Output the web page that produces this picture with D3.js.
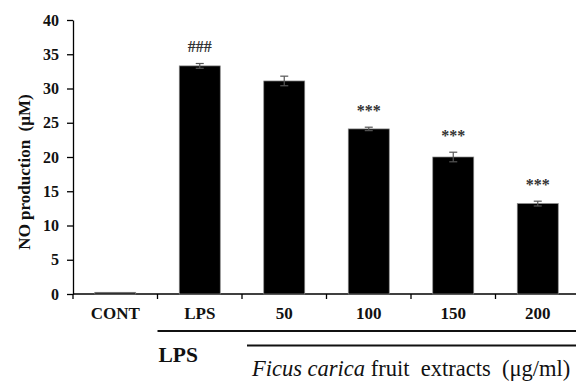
<!DOCTYPE html>
<html><head><meta charset="utf-8">
<script src="https://cdn.jsdelivr.net/npm/d3@7"></script>
<style>body{margin:0;background:#fff}svg{display:block}</style>
</head><body><svg id="c" width="576" height="383"></svg>
<script>
const categories = ["CONT", "LPS", "50", "100", "150", "200"];
const values = [0.25, 33.3, 31.1, 24.1, 20.0, 13.2];
const errors = [0.0, 0.35, 0.7, 0.25, 0.7, 0.35];
const marks = ["", "###", "", "***", "***", "***"];
const yTicks = [0, 5, 10, 15, 20, 25, 30, 35, 40];

const FONT = '"Liberation Serif", "Times New Roman", serif';
const svg = d3.select("#c");
const x0 = 73, x1 = 580, yTop = 20, yBot = 294;
const x = d3.scaleBand().domain(categories).range([x0, x1]).paddingInner(0.515).paddingOuter(0.2575);
const y = d3.scaleLinear().domain([0, 40]).range([yBot, yTop]);

// y axis
const ya = svg.append("g").attr("transform", `translate(${x0},0)`)
  .call(d3.axisLeft(y).tickValues(yTicks).tickSize(6).tickSizeOuter(0).tickPadding(8));
ya.select(".domain").attr("stroke", "#000").attr("stroke-width", 1.3);
ya.selectAll(".tick line").attr("stroke", "#000").attr("stroke-width", 1.3);
ya.selectAll(".tick text").style("font-family", FONT).style("font-weight", "bold").style("font-size", "16px").attr("fill", "#111");

// x axis (labels centered, ticks at boundaries)
const xa = svg.append("g").attr("transform", `translate(0,${yBot})`)
  .call(d3.axisBottom(x).tickSize(0).tickPadding(0));
xa.select(".domain").remove();
xa.selectAll(".tick text").attr("dy", 0).attr("y", 25)
  .style("font-family", FONT).style("font-weight", "bold").style("font-size", "17px").attr("fill", "#111");
svg.append("line").attr("x1", x0).attr("x2", 576).attr("y1", yBot).attr("y2", yBot).attr("stroke", "#000").attr("stroke-width", 1.3);
const bounds = categories.map(c => x(c) - x.step() * x.paddingInner() / 2);
svg.selectAll(".bt").data(bounds).join("line").attr("class", "bt")
  .attr("x1", d => d).attr("x2", d => d).attr("y1", yBot).attr("y2", yBot + 5).attr("stroke", "#000").attr("stroke-width", 1.3);

// bars
svg.selectAll(".bar").data(categories).join("rect").attr("class", "bar")
  .attr("x", d => x(d)).attr("width", x.bandwidth())
  .attr("y", (d, i) => y(values[i])).attr("height", (d, i) => Math.max(1.5, y(0) - y(values[i])))
  .attr("fill", "#000").attr("stroke", "#888").attr("stroke-width", 0.7);

// error bars
svg.selectAll(".eb").data(categories.filter((c, i) => errors[i] > 0)).join("g").attr("class", "eb")
  .each(function (c) {
    const i = categories.indexOf(c);
    const cx = x(c) + x.bandwidth() / 2;
    const g = d3.select(this);
    const t = y(values[i] + errors[i]), b = y(values[i] - errors[i]);
    g.append("line").attr("x1", cx).attr("x2", cx).attr("y1", t).attr("y2", b).attr("stroke", "#555").attr("stroke-width", 1.2);
    g.append("line").attr("x1", cx - 4).attr("x2", cx + 4).attr("y1", t).attr("y2", t).attr("stroke", "#555").attr("stroke-width", 1.2);
    g.append("line").attr("x1", cx - 4).attr("x2", cx + 4).attr("y1", b).attr("y2", b).attr("stroke", "#555").attr("stroke-width", 1.2);
  });

// significance marks
svg.selectAll(".mk").data(categories).join("text").attr("class", "mk")
  .attr("x", d => x(d) + x.bandwidth() / 2)
  .attr("y", (d, i) => y(values[i] + errors[i]) - 11)
  .attr("text-anchor", "middle")
  .style("font-family", FONT).style("font-weight", "bold").style("font-size", "16px").attr("fill", "#333")
  .text((d, i) => marks[i]);

// y label
svg.append("text").attr("transform", "translate(29.5,172) rotate(-90)").attr("text-anchor", "middle")
  .style("font-family", FONT).style("font-weight", "bold").style("font-size", "17px").style("white-space", "pre")
  .attr("fill", "#111").text("NO production  (\u03BCM)");

// group lines
svg.append("line").attr("x1", bounds[1]).attr("x2", 576).attr("y1", 331).attr("y2", 331).attr("stroke", "#111").attr("stroke-width", 2);
svg.append("line").attr("x1", 247).attr("x2", 576).attr("y1", 345.5).attr("y2", 345.5).attr("stroke", "#111").attr("stroke-width", 2);

svg.append("text").attr("x", bounds[1] + 1).attr("y", 362)
  .style("font-family", FONT).style("font-weight", "bold").style("font-size", "21.5px").attr("fill", "#111").text("LPS");

const ft = svg.append("text").attr("x", 252).attr("y", 376)
  .style("font-family", FONT).style("font-size", "22.5px").style("white-space", "pre").attr("fill", "#111");
ft.append("tspan").style("font-style", "italic").text("Ficus carica");
ft.append("tspan").text(" fruit  extracts  (\u03BCg/ml)");
</script></body></html>
